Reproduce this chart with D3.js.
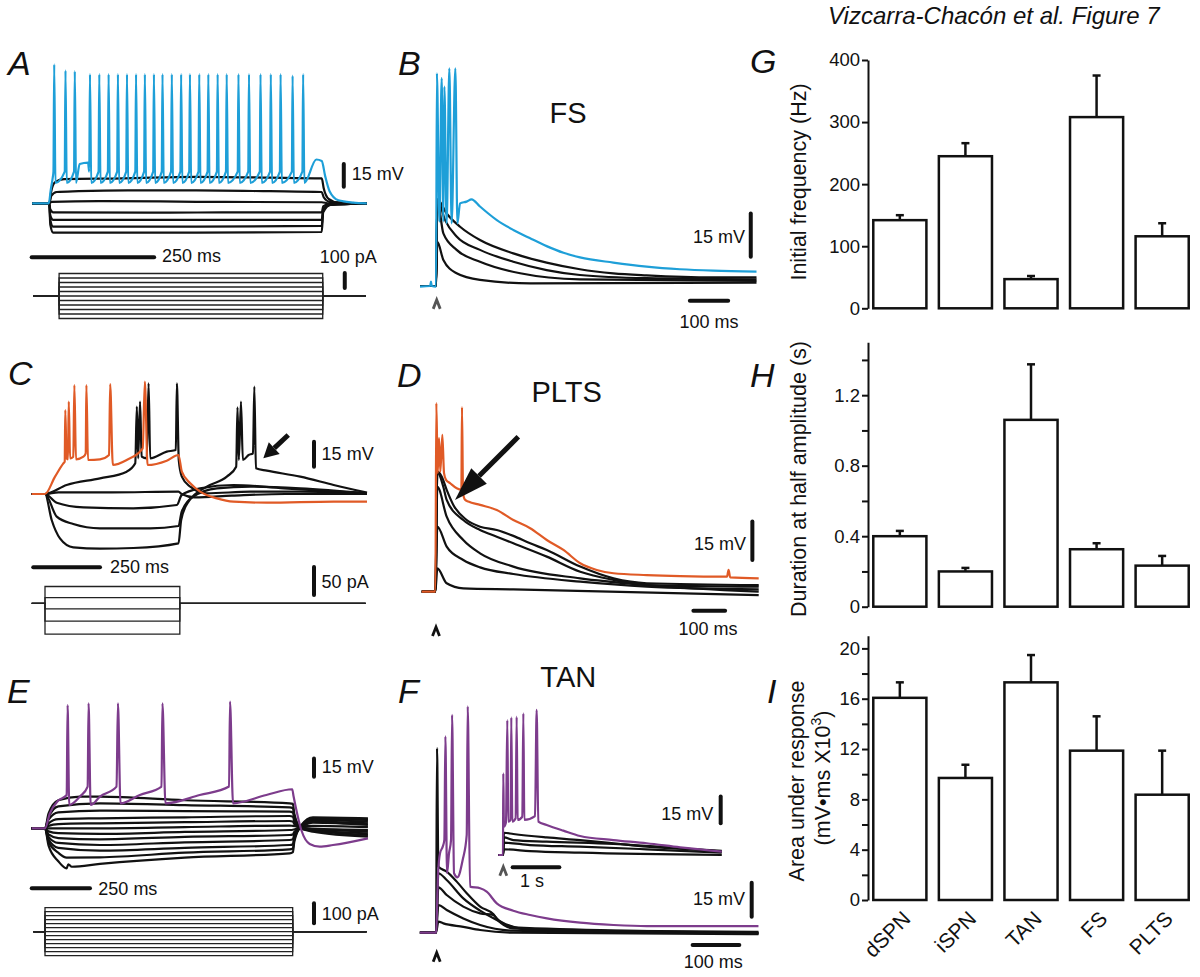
<!DOCTYPE html>
<html lang="en">
<head>
<meta charset="UTF-8">
<title>Vizcarra-Chacón et al. Figure 7</title>
<script src="https://d3js.org/d3.v7.min.js"></script>
<style>
  body { margin: 0; background: #fff; }
  svg { font-family: "Liberation Sans", Arial, Helvetica, sans-serif; }
  .trace { fill: none; stroke-width: 2.2; stroke-linejoin: round; }
  .stim { fill: none; stroke: #222; stroke-width: 1.3; }
  .bar-axis path, .bar-axis line { stroke: #111; stroke-width: 2; }
  .bar-axis text { font-size: 18.5px; fill: #111; font-family: "Liberation Sans", Arial, sans-serif; }
  .note { font-size: 18px; fill: #111; }
  .letter { font-size: 34px; font-style: italic; fill: #111; }
  .celltitle { font-size: 29px; fill: #111; text-anchor: middle; }
</style>
</head>
<body>
<svg id="fig" width="1200" height="977"></svg>
<script>
// ---------------- data: bar charts (G, H, I) ----------------
const cellTypes = ["dSPN", "iSPN", "TAN", "FS", "PLTS"];
const freqMean = [142, 245, 47, 308, 116];       // Hz
const freqSem  = [8, 21, 5, 67, 21];
const durMean  = [0.40, 0.20, 1.06, 0.326, 0.233]; // s
const durSem   = [0.03, 0.02, 0.315, 0.034, 0.055];
const areaMean = [16.07, 9.7, 17.3, 11.87, 8.37];  // mV*ms x10^3
const areaSem  = [1.23, 1.05, 2.17, 2.73, 3.5];
const freqTicks = [0, 100, 200, 300, 400];
const freqTickLabels = ["0", "100", "200", "300", "400"];
const durTicks = [0, 0.2, 0.4, 0.6, 0.8, 1.0, 1.2, 1.4];
const durTickLabels = ["0", "", "0.4", "", "0.8", "", "1.2", ""];
const areaTicks = [0, 2, 4, 6, 8, 10, 12, 14, 16, 18, 20];
const areaTickLabels = ["0", "", "4", "", "8", "", "12", "", "16", "", "20"];

// ---------------- data: traces, [time ms, mV] ----------------
// A: step responses (black) and firing trace (blue)
const aBlack = [
  [[-35,0],[0,0],[4,8],[12,14],[30,16],[150,16.5],[300,17.5],[450,17],[556,16.5],[560,10],[570,3],[590,0.5],[648,0]],
  [[-35,0],[0,0],[4,5],[15,7.5],[60,8],[160,8.5],[300,8.5],[450,8],[556,7.5],[560,4],[572,1],[648,0]],
  [[-35,0],[0,0],[5,1],[100,1.5],[300,1],[556,0.7],[570,0],[648,0]],
  [[-35,0],[0,0],[2,-4],[8,-6],[200,-6.2],[400,-6],[556,-6],[559,-2],[570,-0.5],[648,0]],
  [[-35,0],[0,0],[2,-8],[8,-11],[300,-11],[556,-11],[559,-4],[572,-1],[648,0]],
  [[-35,0],[0,0],[2,-11],[8,-15.5],[300,-15.5],[556,-15],[559,-5],[572,-1],[648,0]],
  [[-35,0],[0,0],[2,-14],[8,-19.4],[300,-19.4],[556,-19],[559,-6],[574,-1],[648,0]]
];
const aBlueBase = [[-35,0],[-1,0],[3,9],[7,17],[62,26],[79,27],[545,29],[556,28],[563,18],[572,8],[590,2],[620,0.5],[648,0]];
const aBlueSpikeT = [10,33,52,83,102,121,140,158.5,177,195,213.5,231,250,269,287,306,324.5,343.5,362,386,407.5,431,452,472,496.5,518];
const aBlueSpikePeak = [92,88,87.5,85.5,85.5,85.5,85.5,85.5,85.5,85.5,85.5,85.5,85.5,85.5,85.5,85.5,85.5,85.5,85.5,85.5,85.5,85.5,85.5,85.5,84.5,85.5];
const aStimLevels = [150, 120, 90, 60, 30, 0, -30, -60, -90, -120, -150]; // pA
const aStimOn = 20, aStimOff = 558;

// B: FS synaptic responses
const bBlack = [
  [[-43.5,0],[-1.7,0],[1.7,30],[26,25.1],[61,20.5],[113,15.9],[200,11.3],[287,8.1],[374,5.8],[461,4.4],[548,3.7],[722,3],[835,3]],
  [[-43.5,0],[-1.7,0],[1.7,30],[21.8,22.8],[52,17.1],[113,12.5],[200,8.4],[287,5.5],[374,3.8],[548,2.7],[835,2.3]],
  [[-43.5,0],[-1.7,0],[1.7,29.8],[17.4,18.2],[52,12.5],[113,8.4],[218,4.4],[374,2.3],[835,1.8]],
  [[-43.5,0],[-1.7,0],[1.7,15.3],[17.4,9],[52,4.4],[113,2.1],[244,0.9],[835,1.2]]
];
const bBlue = [[-43.5,-0.2],[-17,0],[-15,1.5],[-13,0],[-1.7,-0.2],[0.5,73.6],[7,22.3],[13,71.9],[17.4,22.3],[20,69],[26,21.7],[33,75.3],[39,21.7],[48.7,75.3],[54,21.7],[61,28.6],[78,29.2],[91,30],[113,27.5],[157,22.8],[200,19.4],[244,16.5],[287,13.8],[331,11.5],[374,9.9],[461,8.1],[548,6.7],[635,5.8],[722,5.3],[835,5]];

// C: PLTS step responses
const cBlack = [
  [[-50,0],[0,0],[81,5.4],[206,9.4],[306,13.4],[338,18.4],[344,52.4],[349,21.4],[356,55.4],[362,22.4],[381,21.4],[388,66.4],[394,21.4],[456,25.4],[490,26.4],[494,66.4],[501,20.4],[512.5,10.4],[544,4.4],[606,0.4],[769,1.4],[956,1.4],[1206,0.4]],
  [[-50,0],[0,0],[50,1],[250,1],[500,1.4],[512,0],[560,-2],[700,-1],[900,0],[1206,0]],
  [[-50,0],[0,0],[44,-5.2],[144,-8],[331,-8.6],[494,-6.6],[512,-0.6],[581,3.4],[706,5.4],[894,3.4],[1206,0.4]],
  [[-50,0],[0,0],[44,-13.6],[106,-18],[206,-20.6],[394,-20.6],[500,-19.2],[512,-10.6],[556,-1.6],[644,3.4],[769,4.4],[956,3.4],[1206,0.4]],
  [[-50,0],[0,0],[25,-15.6],[56,-26.6],[106,-32],[206,-32.8],[331,-32.4],[500,-29.6],[510,-15.6],[537.5,-4.6],[606,4.4],[681,10.4],[716,16.4],[721,52],[726,20.4],[734,55.4],[741,20.4],[762.5,23.4],[779,24.4],[784,64.4],[790,15.4],[831,14],[956,10.4],[1081,5.4],[1206,0.8]]
];
const cOrange = [[-50,0],[0,0],[37.5,10.4],[68.8,18.4],[73.8,19.4],[76,50.4],[81,21.4],[86,20.8],[89,55.4],[94,21.4],[106,22.4],[110,65.4],[116,20.8],[144,22.4],[152.5,24.4],[155,65.4],[161,20.4],[206,20.8],[240,23.4],[244,66],[254,17.4],[306,20.4],[366,27.4],[374,67.4],[384,17.4],[456,20],[500,23.4],[512.5,13.4],[544,6.4],[581,1.4],[644,-2.6],[706,-4.6],[831,-5.2],[1081,-4.6],[1206,-4.6]];
const cStimLevels = [30, 10, -10, -32, -55]; // pA
const cStimOn = 0, cStimOff = 505;

// D: PLTS synaptic responses
const dBlack = [
  [[-45,0],[-2,0],[4.2,46.9],[17.9,45],[33.7,39.8],[54.7,33.9],[96.8,28],[139,25.4],[191.6,24.1],[244,21.8],[297,18.9],[349.5,16.3],[455,9.8],[560,5.2],[665,3.3],[1018,2.6]],
  [[-45,0],[-2,0],[4.2,46.9],[23,41],[33.7,35.9],[86,28],[139,24.1],[191.6,21.5],[244,18.9],[349.5,13.7],[455,7.8],[560,4.6],[665,2.6],[1018,2]],
  [[-45,0],[-2,0],[4.2,41],[33.7,29.3],[86,20.2],[139,15],[244,9.8],[455,5.2],[665,2.6],[1018,0]],
  [[-45,0],[-2,0],[4.2,25.4],[33.7,17.6],[86,12.4],[139,9.5],[244,6.9],[455,3.9],[665,2],[1018,0.9]],
  [[-45,0],[-2,0],[4.2,9.1],[33.7,3.3],[86,1.3],[244,0.9],[1018,-1.3]]
];
const dOrange = [[-45,0],[-2,0],[1.05,73.7],[5.3,46.3],[9.5,60],[13.7,46.9],[20,61.3],[25.3,46.3],[31.6,43.7],[44.2,42.4],[65.3,40.4],[80,39.8],[82,72.1],[85.3,38.5],[91.6,35.9],[102,35.2],[139,33.9],[191.6,31.9],[244,28],[297,24.8],[349.5,20.2],[402,16.3],[455,11.1],[507,8.5],[560,7.2],[665,6.5],[770.5,6.1],[918,5.9],[923,8.5],[928,5.6],[1018,5.2]];

// E: TAN step responses
const eBlack = [
  [[-57,0],[0,0],[15,12],[57,23],[150,26],[236,26],[600,23],[1050,20.5],[1064,20],[1070,12],[1100,0],[1150,-2.7],[1386,-6.8]],
  [[-57,0],[0,0],[15,9],[57,18],[236,20.5],[600,19],[1050,17.2],[1064,16.5],[1070,10],[1100,-0.5],[1150,-1.9],[1386,-5.5]],
  [[-57,0],[0,0],[15,7],[57,13],[236,14.5],[600,14],[1050,13.7],[1064,13],[1070,8],[1100,0],[1150,-1.4],[1386,-4.1]],
  [[-57,0],[0,0],[15,4],[57,7.5],[236,8.2],[600,9],[1050,10.1],[1064,9.5],[1070,6],[1100,0],[1150,-0.8],[1386,-2.7]],
  [[-57,0],[0,0],[15,2],[57,3.5],[236,4.1],[600,5],[1050,6],[1064,5.5],[1070,3.5],[1100,0.5],[1150,-0.3],[1386,-1.4]],
  [[-57,0],[0,0],[236,0],[600,1],[1050,2.2],[1064,2],[1100,1.5],[1150,2],[1386,1]],
  [[-57,0],[0,0],[15,-2.5],[57,-4],[236,-4.6],[600,-3],[1050,-1.4],[1064,-1.2],[1100,2],[1150,4.6],[1386,2.7]],
  [[-57,0],[0,0],[15,-5],[57,-8],[236,-9],[600,-7],[1050,-5.5],[1064,-5],[1070,-3],[1100,1],[1150,5.5],[1386,4.1]],
  [[-57,0],[0,0],[15,-7],[57,-12],[236,-13.7],[600,-11.5],[1050,-9.6],[1064,-9],[1070,-5],[1100,1],[1150,6.8],[1386,5.5]],
  [[-57,0],[0,0],[15,-9],[57,-16],[236,-18.3],[600,-16],[1050,-13.7],[1064,-13],[1070,-7],[1100,1.5],[1150,7.4],[1386,6.8]],
  [[-57,0],[0,0],[15,-11],[57,-20],[93,-24],[236,-23.8],[600,-20],[1050,-17.2],[1064,-16.5],[1070,-9],[1100,2],[1150,8.2],[1386,7.4]],
  [[-57,0],[0,0],[15,-14],[57,-27],[93,-32.8],[100,-29.5],[115,-31.5],[236,-29.2],[600,-24],[1050,-20.5],[1064,-19.5],[1070,-11],[1100,2.5],[1150,9],[1386,8.2]]
];
const ePurple = [[-57,0],[0,0],[21,12.3],[57,22.7],[93,27.3],[97,101],[104,19.1],[150,26],[183,34.2],[187,102.5],[196,19.1],[236,26],[307,34.2],[313,102.5],[324,20.5],[407,27.3],[500,34.2],[504,102.5],[517,20.5],[664,27.3],[790,34.2],[794,103.8],[807,20.5],[950,27.3],[1061,32],[1067,26],[1100,-1.4],[1136,-12.8],[1179,-15],[1236,-13.7],[1386,-8.2]];
const eStimLevels = [120, 100, 80, 60, 40, 20, 0, -20, -40, -60, -80, -100, -120]; // pA
const eStimOn = 0, eStimOff = 1063;

// F: TAN synaptic responses (main, ms) and inset (s)
const fBlack = [
  [[-36,0],[-1.4,0],[0.7,81.3],[3.6,29.1],[21.4,26.9],[42.9,22.5],[64.3,17.4],[93,11.5],[121,8.2],[128.6,6.3],[164,2.6],[200,1.2],[689,0.4]],
  [[-36,0],[-1.4,0],[3.6,26.2],[21.4,23.2],[57,15.1],[93,9.7],[128.6,5.6],[164,2.4],[689,0]],
  [[-36,0],[-1.4,0],[3.6,20],[21.4,16.6],[57,11.5],[93,8.5],[121,7.8],[132,5.3],[164,1.9],[689,-0.3]],
  [[-36,0],[-1.4,0],[3.6,12.2],[21.4,10],[57,6.3],[93,3.4],[164,0.9],[689,-0.3]],
  [[-36,0],[-1.4,0],[3.6,4.9],[14.3,4.1],[57,2.6],[93,1.2],[164,0],[689,-0.6]]
];
const fPurple = [[-36,0],[-1.4,0],[2.9,26.2],[7.1,35],[12.9,37.9],[16.4,40.9],[18.6,86.5],[22.1,26.2],[26.4,35],[30.7,40.9],[32.9,96],[37.1,26.2],[44.3,24.4],[55.7,32.1],[64.3,43.1],[66.4,99.7],[71.4,20.3],[93,19.6],[107,18.1],[128.6,12.9],[164,9.7],[200,7.8],[236,6.3],[307,4.4],[378.6,3.4],[450,2.9],[689,2.9]];
const fInsetBlack = [
  [[-0.107,0],[-0.007,0],[0.014,12.5],[0.214,11.8],[0.929,9.9],[1.643,8.4],[2.357,6.6],[3.071,4.7],[4.679,2.4]],
  [[-0.107,0],[-0.007,0],[0.014,9.9],[0.214,8.4],[0.929,7.5],[2.357,6.2],[4.679,1.9]],
  [[-0.107,0],[-0.007,0],[0.014,6.9],[0.571,5.6],[1.643,4.7],[3.071,3.2],[4.679,1.3]],
  [[-0.107,0],[-0.007,0],[0.014,3.2],[0.571,2.2],[1.643,1.3],[4.679,0]]
];
const fInsetPurple = [[-0.107,0],[-0.007,0],[0,45.9],[0.014,15.9],[0.057,18.2],[0.086,75.8],[0.107,18.7],[0.157,19.7],[0.171,77.3],[0.193,18.7],[0.264,20.6],[0.286,77.7],[0.307,19.7],[0.407,21.5],[0.429,79.6],[0.45,19.7],[0.679,21.9],[0.714,81.5],[0.75,18.7],[0.929,16.9],[1.286,13.7],[1.643,10.7],[2.357,8.4],[3.071,6.6],[3.786,4.3],[4.679,1.9]];

// ---------------- drawing ----------------
const BLUE = "#1e9fd8", ORANGE = "#e05a26", PURPLE = "#7d3c8c", INK = "#111";
const svg = d3.select("#fig");

// each panel: origin pixel for (0 ms, 0 mV) and pixels per unit
function mkPanel(x0, kx, y0, ky) {
  return {
    x: d3.scaleLinear().domain([0, 1]).range([x0, x0 + kx]),
    y: d3.scaleLinear().domain([0, 1]).range([y0, y0 - ky])
  };
}
const pA = mkPanel(49.3, 0.49, 203.3, 1.51);
const pAstim = mkPanel(49.3, 0.49, 296, 0.15);
const pB = mkPanel(436.7, 0.383, 286, 2.89);
const pC = mkPanel(45, 0.267, 494, 1.667);
const pCstim = mkPanel(45, 0.267, 603.3, 0.56);
const pD = mkPanel(436, 0.317, 591.7, 2.56);
const pE = mkPanel(45, 0.233, 828.3, 1.22);
const pEstim = mkPanel(45, 0.233, 931.7, 0.2);
const pF = mkPanel(436.7, 0.467, 932.7, 2.27);
const pFin = mkPanel(503.3, 46.7, 855, 1.78);

function drawTrace(p, pts, color) {
  const line = d3.line().x(d => p.x(d[0])).y(d => p.y(d[1])).curve(d3.curveMonotoneX);
  svg.append("path").datum(pts).attr("class", "trace")
    .attr("stroke", color).attr("d", line);
}

function spikeTrace(base, times, peaks, thr, trough) {
  const pts = base.slice();
  times.forEach((t, i) => pts.push([t - 1.5, thr], [t, peaks[i]], [t + 2.5, trough]));
  return pts.sort((a, b) => a[0] - b[0]);
}

function drawStim(p, levels, t0, on, off, t1) {
  const line = d3.line().x(d => p.x(d[0])).y(d => p.y(d[1]));
  levels.forEach(L => {
    svg.append("path").attr("class", "stim")
      .attr("d", line([[t0, 0], [on, 0], [on, L], [off, L], [off, 0], [t1, 0]]));
  });
}

// traces
aBlack.forEach(d => drawTrace(pA, d, INK));
drawTrace(pA, spikeTrace(aBlueBase, aBlueSpikeT, aBlueSpikePeak, 21, 13.5), BLUE);
drawStim(pAstim, aStimLevels, -33, aStimOn, aStimOff, 646);

bBlack.forEach(d => drawTrace(pB, d, INK));
drawTrace(pB, bBlue, BLUE);

cBlack.forEach(d => drawTrace(pC, d, INK));
drawTrace(pC, cOrange, ORANGE);
drawStim(pCstim, cStimLevels, -50, cStimOn, cStimOff, 1201);

dBlack.forEach(d => drawTrace(pD, d, INK));
drawTrace(pD, dOrange, ORANGE);

eBlack.forEach(d => drawTrace(pE, d, INK));
drawTrace(pE, ePurple, PURPLE);
drawStim(pEstim, eStimLevels, -50, eStimOn, eStimOff, 1380);

fBlack.forEach(d => drawTrace(pF, d, INK));
drawTrace(pF, fPurple, PURPLE);
fInsetBlack.forEach(d => drawTrace(pFin, d, INK));
drawTrace(pFin, fInsetPurple, PURPLE);

// scale bars: time bars (dt) and voltage/current bars (dv)
const scaleBars = [
  { p: pA, t: -36, v: -35.8, dt: 250 }, { p: pA, t: 601, v: 11, dv: 15 }, { p: pAstim, t: 603, v: 53, dv: 100 },
  { p: pB, t: 661, v: -5.1, dt: 100 }, { p: pB, t: 820, v: 10.1, dv: 15 },
  { p: pC, t: -44, v: -44, dt: 250 }, { p: pC, t: 1007.5, v: 16.4, dv: 15 }, { p: pCstim, t: 1007.5, v: 14.8, dv: 50 },
  { p: pD, t: 812, v: -7.4, dt: 100 }, { p: pD, t: 998, v: 12.4, dv: 15 },
  { p: pE, t: -57, v: -49.2, dt: 250 }, { p: pE, t: 1154.5, v: 42.3, dv: 15 }, { p: pEstim, t: 1154.5, v: 42, dv: 100 },
  { p: pF, t: 548, v: -5.4, dt: 100 }, { p: pF, t: 674.5, v: 7, dv: 15 },
  { p: pFin, t: 0.2, v: -6.9, dt: 1 }, { p: pFin, t: 4.655, v: 17.8, dv: 15 }
];
scaleBars.forEach(b => {
  svg.append("line")
    .attr("x1", b.p.x(b.t)).attr("y1", b.p.y(b.v))
    .attr("x2", b.p.x(b.t + (b.dt || 0))).attr("y2", b.p.y(b.v + (b.dv || 0)))
    .attr("stroke", INK).attr("stroke-width", 4).attr("stroke-linecap", "round");
});

const notes = [
  { p: pA, t: 617, v: 15.4, s: "15 mV" }, { p: pA, t: 230, v: -39, s: "250 ms" }, { p: pAstim, t: 552, v: 220, s: "100 pA" },
  { p: pB, t: 805, v: 14.9, s: "15 mV", a: "end" }, { p: pB, t: 711, v: -14.5, s: "100 ms", a: "middle" },
  { p: pC, t: 1036, v: 20.4, s: "15 mV" }, { p: pC, t: 243, v: -47.4, s: "250 ms" }, { p: pCstim, t: 1036, v: 26.8, s: "50 pA" },
  { p: pD, t: 978, v: 16.3, s: "15 mV", a: "end" }, { p: pD, t: 858, v: -16.9, s: "100 ms", a: "middle" },
  { p: pE, t: 1188, v: 45, s: "15 mV" }, { p: pE, t: 229, v: -54.7, s: "250 ms" }, { p: pEstim, t: 1188, v: 58.5, s: "100 pA" },
  { p: pF, t: 660, v: 12.2, s: "15 mV", a: "end" }, { p: pF, t: 592, v: -15.6, s: "100 ms", a: "middle" },
  { p: pFin, t: 0.357, v: -18.1, s: "1 s" }, { p: pFin, t: 4.497, v: 19.7, s: "15 mV", a: "end" }
];
notes.forEach(n => {
  svg.append("text").attr("class", "note")
    .attr("x", n.p.x(n.t)).attr("y", n.p.y(n.v))
    .attr("text-anchor", n.a || "start").text(n.s);
});

// stimulus markers (chevrons under traces)
const chevrons = [
  { p: pB, t: 0, v: -4.8, c: "#555" }, { p: pD, t: 0, v: -13.8, c: INK },
  { p: pF, t: 0, v: -8.8, c: INK }, { p: pFin, t: 0, v: -6.6, c: "#555" }
];
chevrons.forEach(m => {
  const cx = m.p.x(m.t), cy = m.p.y(m.v);
  svg.append("path").attr("d", `M${cx - 3.5},${cy + 9} L${cx},${cy} L${cx + 3.5},${cy + 9}`)
    .attr("fill", "none").attr("stroke", m.c).attr("stroke-width", 2.8).attr("stroke-linejoin", "miter");
});

// arrows pointing at rebound / plateau
function arrow(p, from, to, head, half, w) {
  const x1 = p.x(from[0]), y1 = p.y(from[1]), x2 = p.x(to[0]), y2 = p.y(to[1]);
  const a = Math.atan2(y2 - y1, x2 - x1);
  const bx = x2 - head * Math.cos(a), by = y2 - head * Math.sin(a);
  svg.append("line").attr("x1", x1).attr("y1", y1).attr("x2", bx).attr("y2", by)
    .attr("stroke", INK).attr("stroke-width", w);
  const nx = -Math.sin(a) * half, ny = Math.cos(a) * half;
  svg.append("path").attr("d", `M${x2},${y2} L${bx + nx},${by + ny} L${bx - nx},${by - ny} Z`).attr("fill", INK);
}
arrow(pC, [911, 35.4], [817.6, 21.4], 15, 8, 5);
arrow(pD, [259.6, 60.5], [59.9, 35.8], 34, 11, 5);

// cell-type titles
[["FS", 568, 123], ["PLTS", 566.7, 401.7], ["TAN", 568.3, 686.7]].forEach(([s, x, y]) => {
  svg.append("text").attr("class", "celltitle").attr("x", x).attr("y", y).text(s);
});

// panel letters
[["A", 8, 75], ["B", 398, 75], ["G", 750, 73], ["C", 8, 385], ["D", 397, 387], ["H", 750, 387],
 ["E", 7, 703], ["F", 398, 703], ["I", 767, 703]].forEach(([s, x, y]) => {
  svg.append("text").attr("class", "letter").attr("x", x).attr("y", y).text(s);
});

svg.append("text").attr("x", 828).attr("y", 24)
  .attr("font-size", 24).attr("font-style", "italic").attr("fill", INK)
  .text("Vizcarra-Chacón et al. Figure 7");

// ---------------- bar charts ----------------
const xBand = d3.scaleBand().domain(cellTypes).range([870, 1192]).paddingInner(0.19).paddingOuter(0.05);

function barChart(mean, sem, domain, range, ticks, tickLabels) {
  const y = d3.scaleLinear().domain(domain).range(range);
  const g = svg.append("g");
  g.append("g").attr("class", "bar-axis").attr("transform", "translate(868,0)")
    .call(d3.axisLeft(y).tickValues(ticks).tickFormat((d, i) => tickLabels[i])
      .tickSize(6).tickPadding(2).tickSizeOuter(0));
  cellTypes.forEach((c, i) => {
    const cx = xBand(c) + xBand.bandwidth() / 2;
    const top = y(mean[i] + sem[i]);
    g.append("line").attr("x1", cx).attr("x2", cx).attr("y1", y(mean[i])).attr("y2", top)
      .attr("stroke", INK).attr("stroke-width", 2.5);
    g.append("line").attr("x1", cx - 4).attr("x2", cx + 4).attr("y1", top).attr("y2", top)
      .attr("stroke", INK).attr("stroke-width", 2.5);
    g.append("rect").attr("x", xBand(c)).attr("y", y(mean[i]))
      .attr("width", xBand.bandwidth()).attr("height", y(0) - y(mean[i]))
      .attr("fill", "#fff").attr("stroke", INK).attr("stroke-width", 2.5);
  });
  return y;
}

barChart(freqMean, freqSem, [0, 400], [308.3, 60], freqTicks, freqTickLabels);
barChart(durMean, durSem, [0, 1.5], [606.7, 342.3], durTicks, durTickLabels);
const yArea = barChart(areaMean, areaSem, [0, 21], [900, 635.8], areaTicks, areaTickLabels);

// category labels under I
cellTypes.forEach(c => {
  const cx = xBand(c) + xBand.bandwidth() / 2;
  svg.append("text").attr("transform", `translate(${cx + 12},${yArea(0) + 20}) rotate(-45)`)
    .attr("text-anchor", "end").attr("font-size", 21).attr("fill", INK).text(c);
});

// y-axis titles
function yTitle(x, y, s) {
  return svg.append("text").attr("transform", `translate(${x},${y}) rotate(-90)`)
    .attr("text-anchor", "middle").attr("font-size", 21.5).attr("fill", INK).text(s);
}
yTitle(806, 182, "Initial frequency (Hz)");
yTitle(806, 479, "Duration at half amplitude (s)");
yTitle(804, 781, "Area under response");
const t2 = yTitle(830, 778, "(mV\u2022ms X10");
t2.append("tspan").attr("font-size", 14).attr("dy", -9).text("3");
t2.append("tspan").attr("dy", 9).text(")");
</script>
</body>
</html>
